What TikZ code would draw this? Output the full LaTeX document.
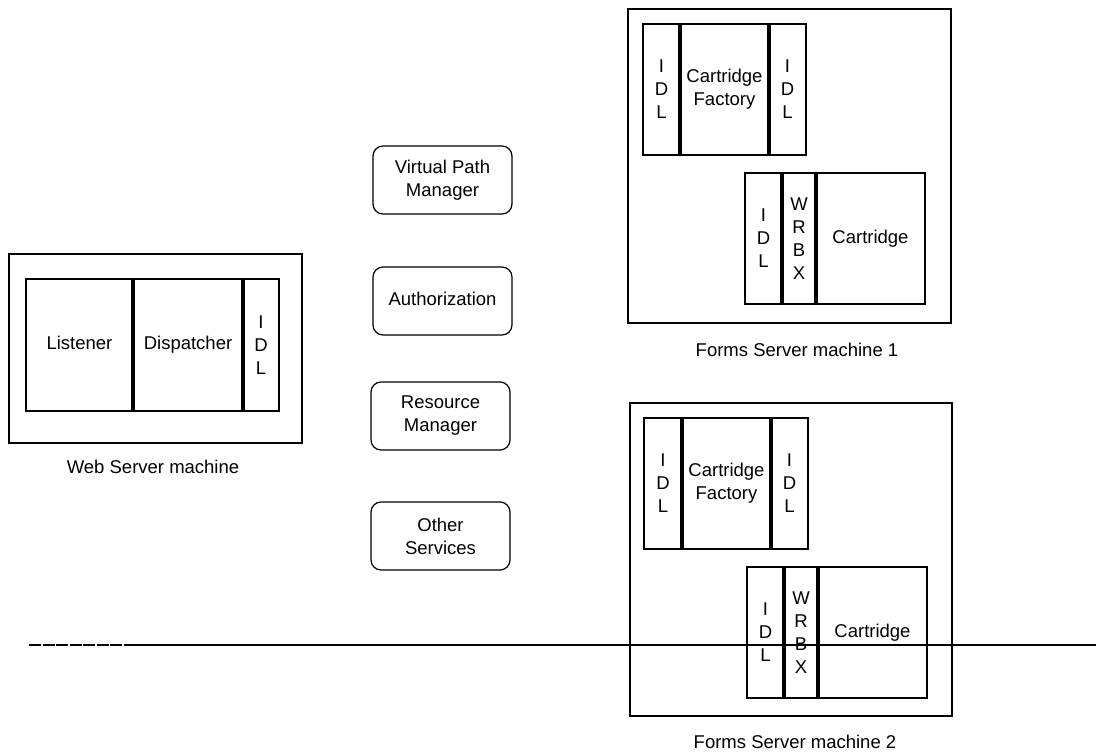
\documentclass[tikz,border=0pt]{standalone}
\usepackage{fontspec}
\setmainfont{Liberation Sans}
% \place{style}{name}{x1}{y1}{x2}{y2}{text}: a box given by its two corners
\newcommand\place[7]{\node[#1, minimum width={#5-#3}, minimum height={#6-#4}] (#2) at ({(#3+#5)/2},{(#4+#6)/2}) {#7};}
\begin{document}
\begin{tikzpicture}[x=1pt,y=-1pt,
  every node/.style={font=\fontsize{18.5}{23}\selectfont},
  frame/.style={draw, line width=1.2pt, inner sep=0pt, outer sep=0pt},
  cell/.style={draw, line width=1.2pt, inner sep=0pt, outer sep=0pt, align=center},
  svc/.style={draw, line width=1.2pt, rounded corners=10pt, inner sep=0pt, outer sep=0pt, align=center},
  divider/.style={line width=4pt},
  caption/.style={inner sep=0pt},
  bus/.style={line width=1.2pt}]
\useasboundingbox (0,0) rectangle (1096,755);

% Web server machine
\place{frame}{web}{9}{254}{302}{443}{}
\place{cell}{listener}{26}{279}{133}{411}{\strut Listener}
\place{cell}{dispatcher}{133}{279}{243}{411}{\strut Dispatcher}
\place{cell}{widl}{243}{279}{279}{411}{I\\D\\L}
\draw[divider] (listener.north east) -- (listener.south east);
\draw[divider] (dispatcher.north east) -- (dispatcher.south east);
\node[caption] (webcap) at (153,467) {Web Server machine};

% Shared services
\place{svc}{vpm}{373}{146}{512}{214}{Virtual Path\\Manager}
\place{svc}{auth}{373}{267}{512}{335}{\strut Authorization}
\place{svc}{resmgr}{371}{382}{510}{450}{Resource\\Manager}
\place{svc}{other}{371}{502}{510}{570}{Other\\Services}

% Forms server machine 1
\place{frame}{fsa}{628}{9}{951}{323}{}
\place{cell}{aidlL}{643}{24}{680}{155}{I\\D\\L}
\place{cell}{afact}{680}{24}{769}{155}{Cartridge\\Factory}
\place{cell}{aidlR}{769}{24}{806}{155}{I\\D\\L}
\draw[divider] (aidlL.north east) -- (aidlL.south east);
\draw[divider] (afact.north east) -- (afact.south east);
\place{cell}{aidlC}{745}{173}{782}{304}{I\\D\\L}
\place{cell}{awrbx}{782}{173}{816}{304}{W\\R\\B\\X}
\place{cell}{acart}{816}{173}{925}{304}{\strut Cartridge}
\draw[divider] (aidlC.north east) -- (aidlC.south east);
\draw[divider] (awrbx.north east) -- (awrbx.south east);
\node[caption] (fsacap) at (797,350) {Forms Server machine 1};

% Forms server machine 2
\place{frame}{fsb}{630}{403}{952}{716}{}
\place{cell}{bidlL}{644}{418}{682}{549}{I\\D\\L}
\place{cell}{bfact}{682}{418}{771}{549}{Cartridge\\Factory}
\place{cell}{bidlR}{771}{418}{808}{549}{I\\D\\L}
\draw[divider] (bidlL.north east) -- (bidlL.south east);
\draw[divider] (bfact.north east) -- (bfact.south east);
\place{cell}{bidlC}{747}{567}{784}{698}{I\\D\\L}
\place{cell}{bwrbx}{784}{567}{818}{698}{W\\R\\B\\X}
\place{cell}{bcart}{818}{567}{927}{698}{\strut Cartridge}
\draw[divider] (bidlC.north east) -- (bidlC.south east);
\draw[divider] (bwrbx.north east) -- (bwrbx.south east);
\node[caption] (fsbcap) at (795,742) {Forms Server machine 2};

% Network line across the page
\coordinate (busL) at (29,645);
\coordinate (busM) at (133,645);
\coordinate (busR) at (1096,645);
\draw[bus, dash pattern=on 12pt off 1.5pt] (busL) -- (busM);
\draw[bus] (busM) -- (busR);
\end{tikzpicture}
\end{document}
